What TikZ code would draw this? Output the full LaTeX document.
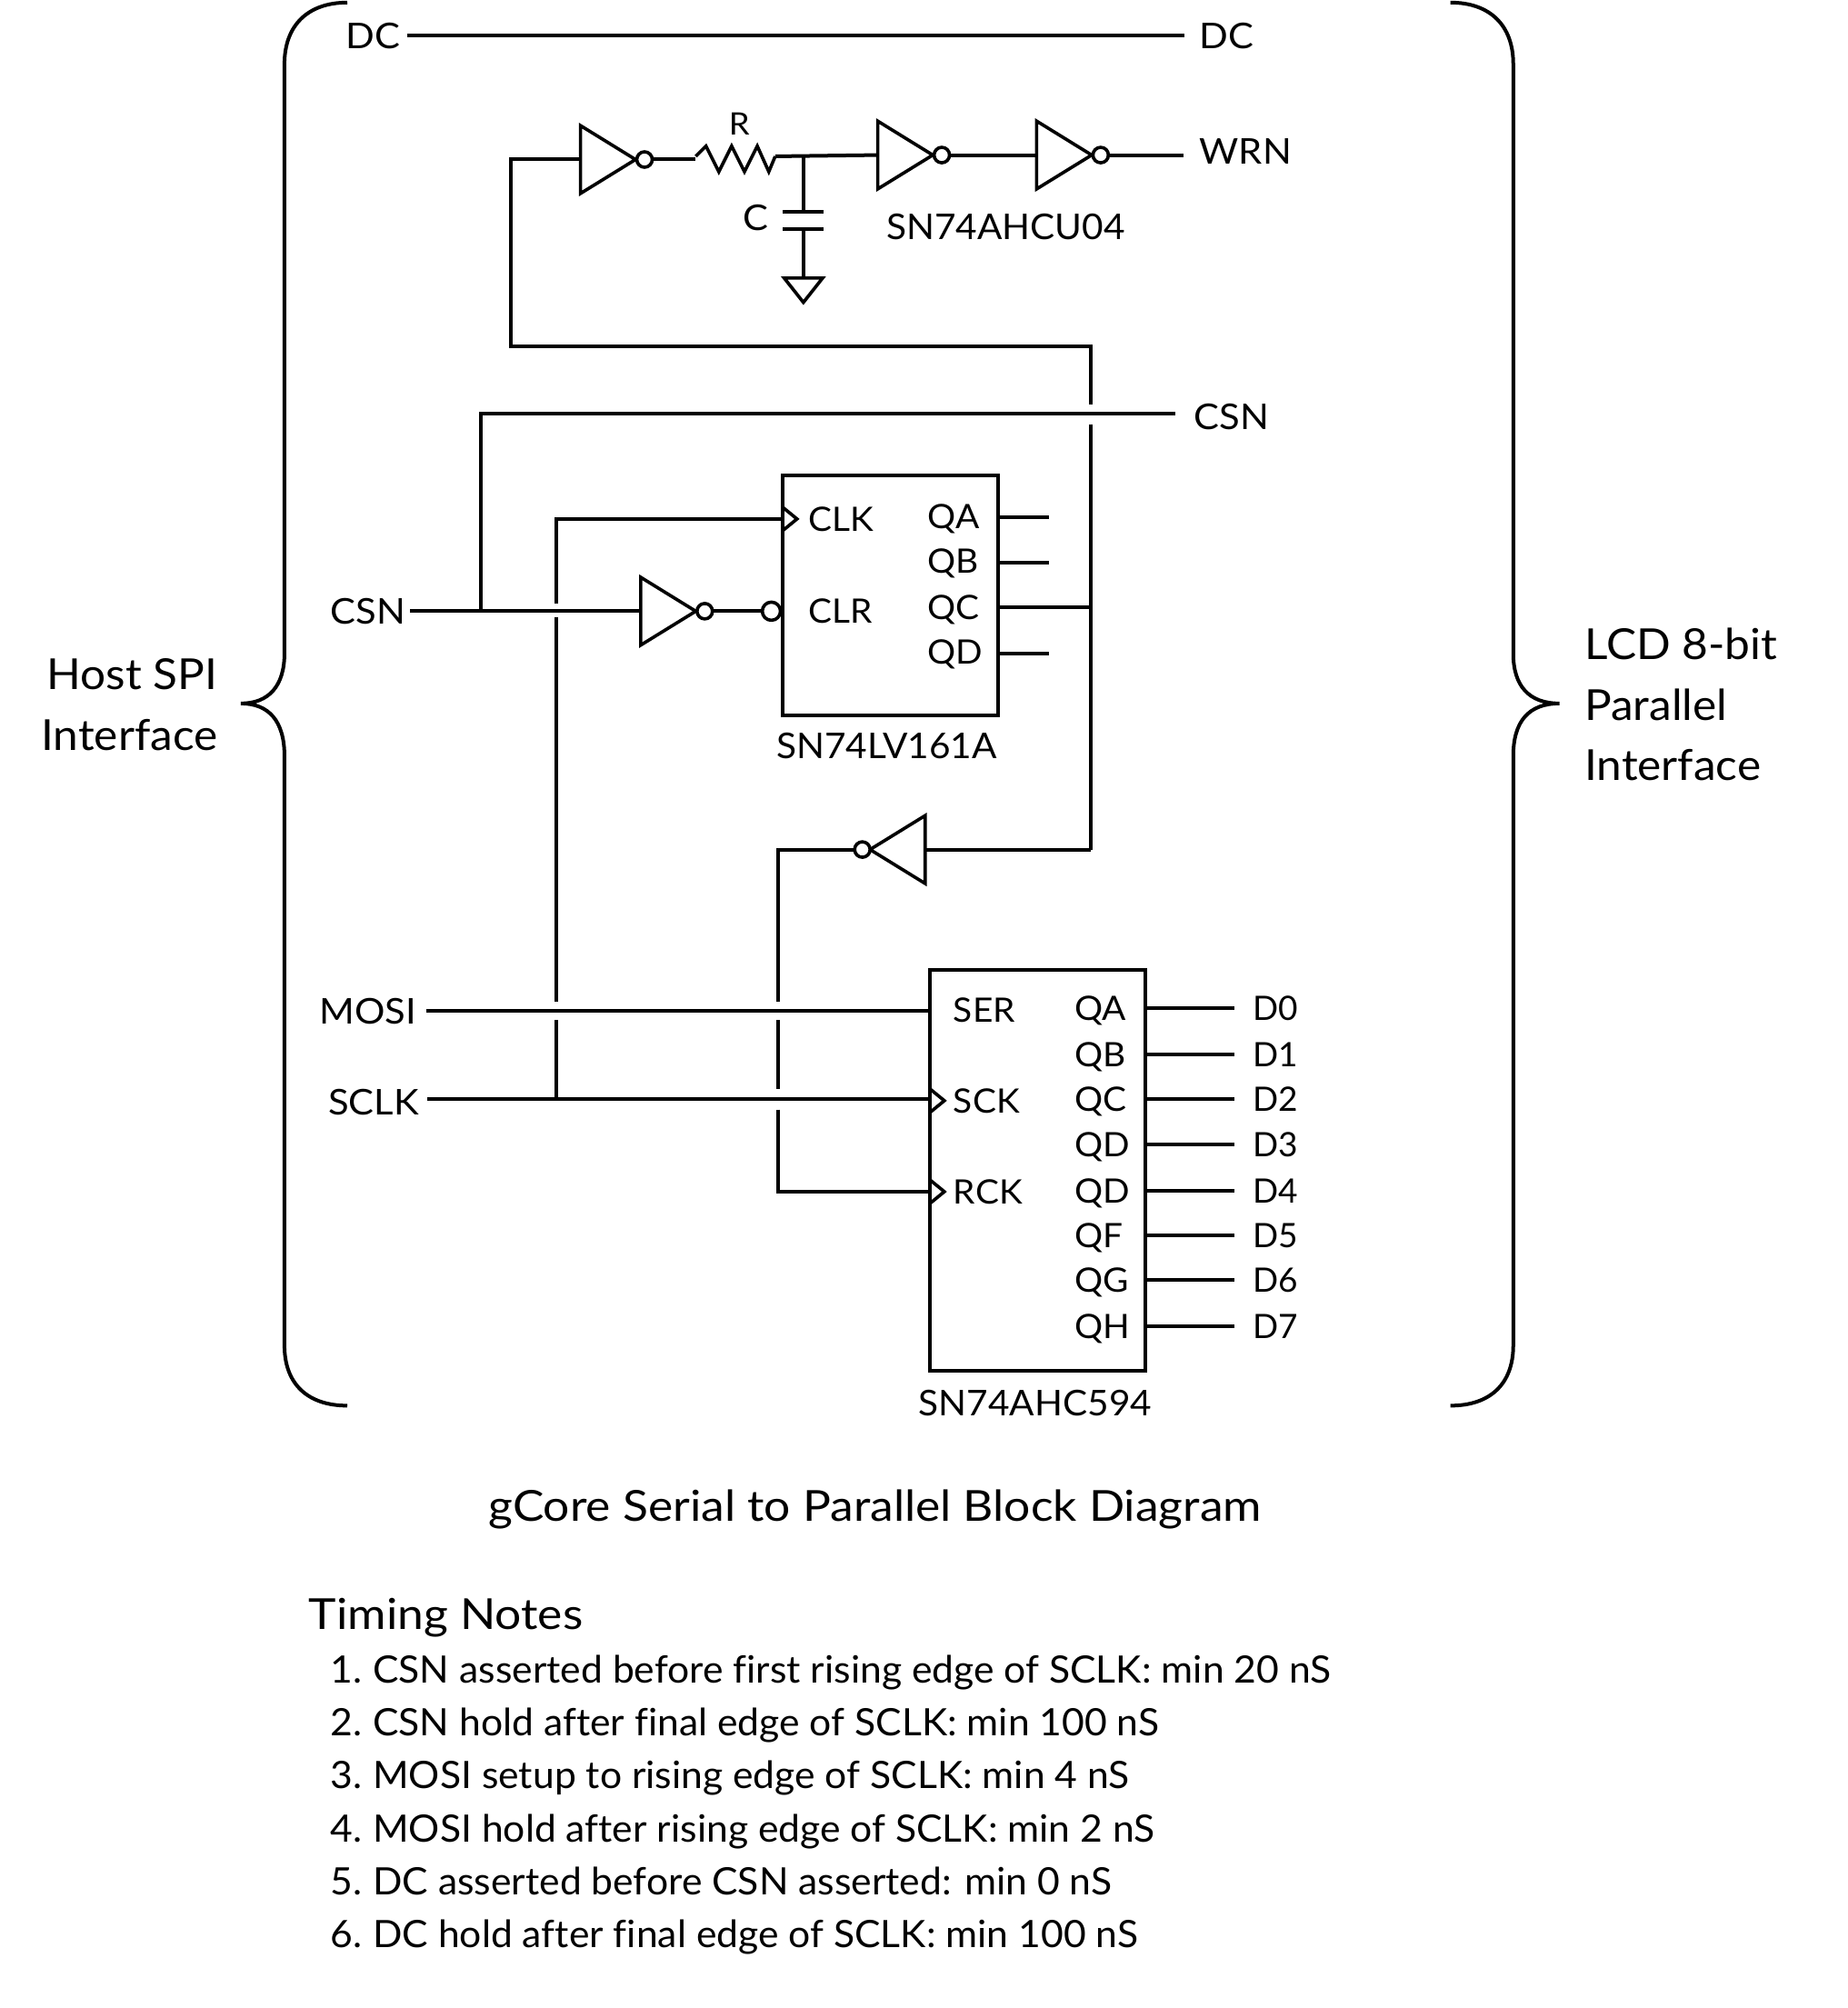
\documentclass[tikz,border=0pt]{standalone}
\usepackage{fontspec}
\setmainfont{Lato}
\newfontfamily\ftlbl[FakeStretch=1.07,Ligatures=NoCommon]{Lato}
\newfontfamily\ftchip[FakeStretch=1.04,Ligatures=NoCommon]{Lato}
\newfontfamily\ftpin[FakeStretch=1.05,Ligatures=NoCommon]{Lato}
\newfontfamily\ftside[FakeStretch=1.055,Ligatures=NoCommon]{Lato}
\newfontfamily\fttitle[FakeStretch=1.097,Ligatures=NoCommon]{Lato}
\newfontfamily\ftnote[FakeStretch=1.027,Ligatures=NoCommon]{Lato}
\tikzset{
  x=1.4096pt,y=-1.4096pt,
  wire/.style={draw=black,line width=4pt,line cap=butt,line join=miter},
  thin wire/.style={draw=black,line width=3.6pt,line join=miter},
  bub/.style={circle,draw=black,line width=3.6pt,fill=white,minimum size=17pt,inner sep=0pt,outer sep=0pt},
  bigbub/.style={circle,draw=black,line width=3.6pt,fill=white,minimum size=20pt,inner sep=0pt,outer sep=0pt},
  chip/.style={rectangle,draw=black,line width=4pt,inner sep=0pt,outer sep=0pt},
  lbl/.style={inner sep=0pt,font=\ftlbl\fontsize{39}{39}\selectfont,text height=28pt,text depth=0pt},
  chipname/.style={inner sep=0pt,font=\ftchip\fontsize{39}{39}\selectfont,text height=28pt,text depth=0pt},
  pin/.style={inner sep=0pt,font=\ftpin\fontsize{37}{37}\selectfont,text height=27pt,text depth=0pt},
  dpin/.style={inner sep=0pt,font=\fontsize{37}{37}\selectfont,text height=27pt,text depth=0pt},
  small/.style={inner sep=0pt,font=\ftlbl\fontsize{34}{34}\selectfont,text height=24pt,text depth=0pt},
  side/.style={inner sep=0pt,font=\ftside\fontsize{47}{66.5}\selectfont,align=left},
  title/.style={inner sep=0pt,font=\fttitle\fontsize{47}{47}\selectfont},
  note/.style={inner sep=0pt,anchor=base west,font=\ftnote\fontsize{41.5}{41.5}\selectfont},
}
\newcommand\invright[3]{%
  \coordinate (#1in) at (#2,#3);
  \draw[thin wire] (#2,#3-26.5) -- (#2+43,#3) -- (#2,#3+26.5) -- cycle;
  \node[bub] (#1out) at (#2+50,#3) {};
}
\newcommand\invleft[3]{%
  \coordinate (#1in) at (#2,#3);
  \draw[thin wire] (#2,#3-26.5) -- (#2-43,#3) -- (#2,#3+26.5) -- cycle;
  \node[bub] (#1out) at (#2-49,#3) {};
}
\newcommand\clockmark[2]{%
  \draw[thin wire] (#1,#2-9) -- (#1+11,#2) -- (#1,#2+9);
}
\begin{document}
\begin{tikzpicture}
\useasboundingbox[fill=white] (0,0) rectangle (1441.55,1567.1);

% braces
\draw[wire] (271,2) .. controls (240,2) and (222,20) .. (222,50) -- (222,510)
  .. controls (222,535) and (210,549) .. (188,549)
  .. controls (210,549) and (222,563) .. (222,590) -- (222,1050)
  .. controls (222,1080) and (240,1097) .. (271,1097);
\draw[wire] (1132,2) .. controls (1163,2) and (1181,20) .. (1181,50) -- (1181,510)
  .. controls (1181,535) and (1193,549) .. (1217,549)
  .. controls (1193,549) and (1181,563) .. (1181,590) -- (1181,1050)
  .. controls (1181,1080) and (1163,1097) .. (1132,1097);
\node[side,align=right,anchor=east] (host) at (170,550) {Host SPI\\Interface};
\node[side,anchor=west] (lcd) at (1236.5,550) {LCD 8-bit\\Parallel\\Interface};

% DC
\node[lbl,anchor=west] (dcl) at (270,28) {DC};
\node[lbl,anchor=west] (dcr) at (936,28) {DC};
\draw[wire,shorten <=7pt,shorten >=16pt] (dcl.east) -- (dcr.west);

% RC delay chain
\invright{ia}{453}{124.5}
\invright{ib}{685}{121}
\invright{ic}{809}{121}
\node[lbl,anchor=west] (wrn) at (936,118) {WRN};
\node[small,anchor=center] (rl) at (577,97) {R};
\node[lbl,anchor=center] (cl) at (590,170) {C};
\node[chipname,anchor=center] (u3) at (785,177) {SN74AHCU04};
\coordinate (rin) at (543,122);
\coordinate (rout) at (605,122);
\coordinate (rc) at (627,122);
\coordinate (capt) at (627,165);
\coordinate (capb) at (627,179);
\coordinate (gnd) at (627,217);
\coordinate (wrnend) at (924,121);
\draw[wire] (iaout) -- (iaout -| rin);
\draw[thin wire] (rin) -- (551,114) -- (561,134) -- (571,114) -- (581,134) -- (591,114) -- (600,134) -- (rout);
\draw[wire] (rout) -- (ibin);
\draw[wire] (ibout) -- (icin);
\draw[wire] (icout) -- (wrnend);
\draw[thin wire] (rc) -- (capt);
\draw[thin wire] (capb) -- (gnd);
\draw[wire] (611,165) -- (643,165);
\draw[wire] (611,179) -- (643,179);
\draw[thin wire] (612,217) -- (642,217) -- (627,236) -- cycle;

% feedback
\coordinate (fba) at (399,124.5);
\coordinate (fbb) at (399,270);
\coordinate (fbc) at (851,270);
\coordinate (fbgapa) at (851,316);
\coordinate (fbgapb) at (851,331);
\coordinate (fbd) at (851,663);
\draw[wire] (iain) -- (fba) -- (fbb) -- (fbc) -- (fbgapa);
\draw[wire] (fbgapb) -- (fbd);

% counter
\node[chip,minimum width=236.8pt,minimum height=263.6pt,anchor=north west] (u1) at (611,371) {};
\node[chipname,anchor=center] (u1name) at (692,582) {SN74LV161A};
\node[pin,anchor=west] (clk) at (631,405) {CLK};
\node[pin,anchor=west] (clr) at (631,477) {CLR};
\node[pin,anchor=west] (qa1) at (724,403) {QA};
\node[pin,anchor=west] (qb1) at (724,438) {QB};
\node[pin,anchor=west] (qc1) at (724,474) {QC};
\node[pin,anchor=west] (qd1) at (724,509) {QD};
\clockmark{611}{405}
\coordinate (qaend) at (819,404);
\coordinate (qbend) at (819,439);
\coordinate (qdend) at (819,510);
\draw[wire] (u1.east |- qaend) -- (qaend);
\draw[wire] (u1.east |- qbend) -- (qbend);
\draw[wire] (u1.east |- qdend) -- (qdend);
\coordinate (qcj) at (851,474);
\draw[wire] (u1.east |- qcj) -- (qcj);

% CSN
\node[lbl,anchor=west] (csnl) at (258,477) {CSN};
\node[lbl,anchor=west] (csnr) at (932,325) {CSN};
\invright{id}{500}{477}
\coordinate (csnj) at (375,477);
\coordinate (csnt) at (375,323);
\coordinate (csne) at (917,323);
\draw[wire,shorten <=5pt] (csnl.east) -- (idin);
\draw[wire] (csnj) -- (csnt) -- (csne);
\node[bigbub] (clrb) at (602,477) {};
\draw[wire] (idout) -- (clrb);

% second inverter, feeding RCK
\invleft{ie}{722}{663}
\draw[wire] (fbd) -- (iein);

% shifter
\node[chip,minimum width=236.8pt,minimum height=441.2pt,anchor=north west] (u2) at (726,757) {};
\node[chipname,anchor=center] (u2name) at (808,1095) {SN74AHC594};
\node[pin,anchor=west] (ser) at (744,788) {SER};
\node[pin,anchor=west] (sck) at (744,859) {SCK};
\node[pin,anchor=west] (rck) at (744,930) {RCK};
\clockmark{726}{859}
\clockmark{726}{930}
\foreach \nm/\qn/\dn/\yy in {a/QA/D0/787,b/QB/D1/823,c/QC/D2/858,d/QD/D3/893,e/QD/D4/929,f/QF/D5/964,g/QG/D6/999,h/QH/D7/1035}{
  \node[pin,anchor=west] (qq\nm) at (838.5,\yy) {\qn};
  \node[dpin,anchor=west] (dd\nm) at (977.5,\yy) {\dn};
  \draw[wire,shorten >=20pt] (u2.east |- dd\nm.west) -- (dd\nm.west);
}

% MOSI, SCLK
\node[lbl,anchor=east] (mosi) at (325,789) {MOSI};
\node[lbl,anchor=east] (sclk) at (327,860) {SCLK};
\draw[wire,shorten <=11pt] (mosi.east) -- (u2.west |- mosi.east);
\coordinate (sy) at (0,858);
\draw[wire,shorten <=9pt] (sclk.east |- sy) -- (u2.west |- sy);

% vertical clock line with gaps
\coordinate (ca) at (434,405);
\draw[wire] (clk.west -| u1.west) -- (ca) -- (434,471);
\draw[wire] (434,482) -- (434,782);
\draw[wire] (434,796) -- (434,858);

% RCK line with gaps
\coordinate (rckb) at (607,930);
\draw[wire] (ieout) -- (607,663) -- (607,782);
\draw[wire] (607,796) -- (607,850);
\draw[wire] (607,866) -- (rckb) -- (u2.west |- rckb);

% captions
\node[title,anchor=center] (ttl) at (683,1178) {gCore Serial to Parallel Block Diagram};
\node[note,font=\fttitle\fontsize{47}{47}\selectfont] (tn) at (241,1271.7) {Timing Notes};
\node[note] (n1) at (258,1313.2) {\makebox[46.5pt][l]{1.}CSN asserted before first rising edge of SCLK: min 20 nS};
\node[note] (n2) at (258,1354.6) {\makebox[46.5pt][l]{2.}CSN hold after final edge of SCLK: min 100 nS};
\node[note] (n3) at (258,1396) {\makebox[46.5pt][l]{3.}MOSI setup to rising edge of SCLK: min 4 nS};
\node[note] (n4) at (258,1437.4) {\makebox[46.5pt][l]{4.}MOSI hold after rising edge of SCLK: min 2 nS};
\node[note] (n5) at (258,1478.8) {\makebox[46.5pt][l]{5.}DC asserted before CSN asserted: min 0 nS};
\node[note] (n6) at (258,1520.2) {\makebox[46.5pt][l]{6.}DC hold after final edge of SCLK: min 100 nS};
\end{tikzpicture}
\end{document}
